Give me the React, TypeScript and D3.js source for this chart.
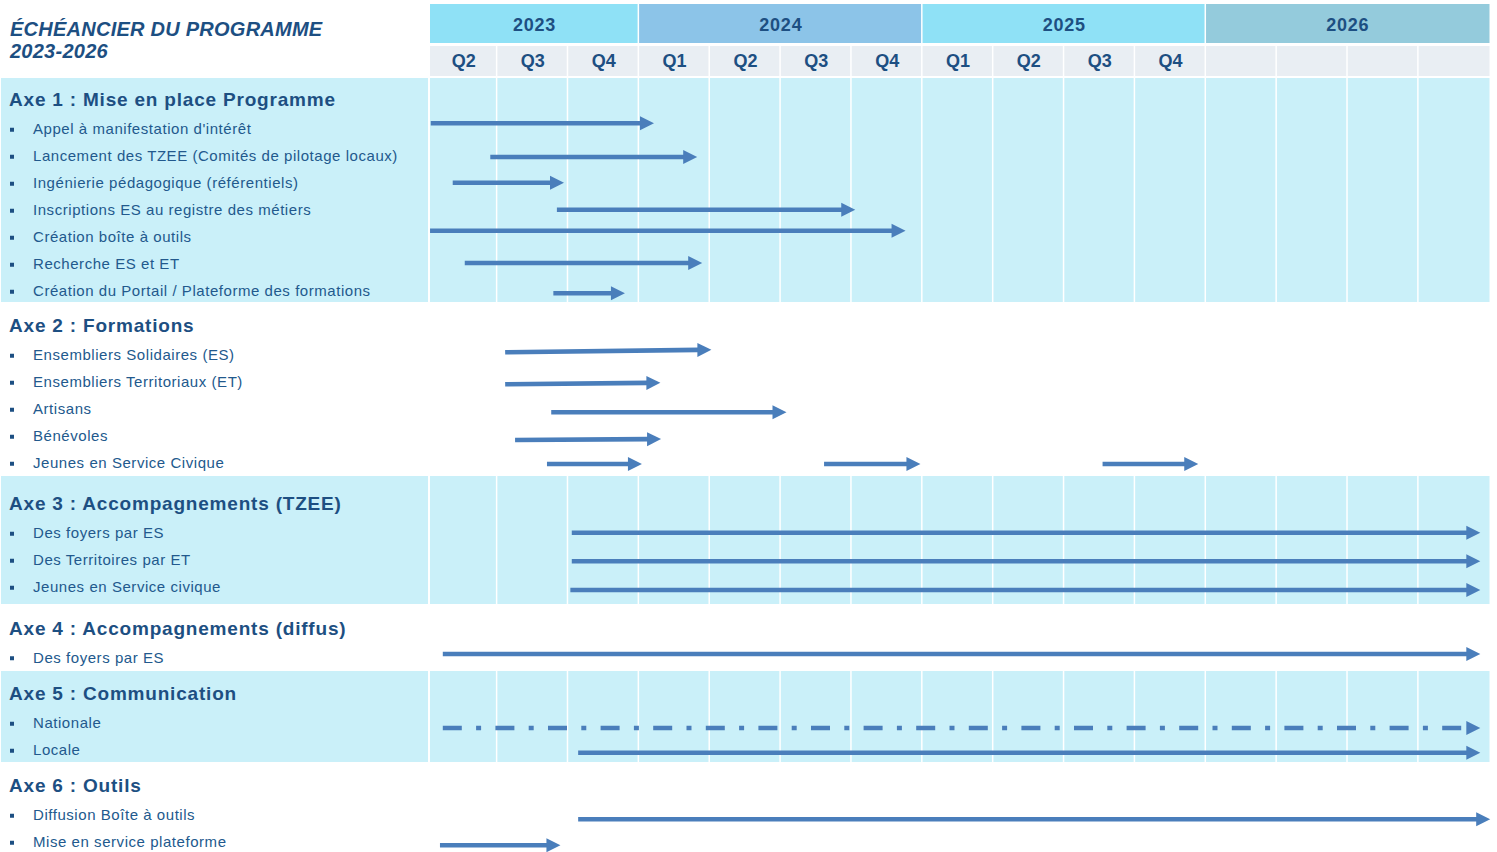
import React from "react";
import * as d3 from "d3";

// ---- Timeline ----
const YEARS = ["2023", "2024", "2025", "2026"];
const YEAR_QUARTER_COUNT = [3, 4, 4, 4];
const QUARTER_LABELS = ["Q2", "Q3", "Q4", "Q1", "Q2", "Q3", "Q4", "Q1", "Q2", "Q3", "Q4", "", "", "", ""];

// ---- Programme axes and tasks (spans in quarters counted from the start of Q2 2023) ----
const AXIS_TITLES = [
  "Axe 1 : Mise en place Programme",
  "Axe 2 : Formations",
  "Axe 3 : Accompagnements (TZEE)",
  "Axe 4 : Accompagnements (diffus)",
  "Axe 5 : Communication",
  "Axe 6 : Outils",
];

const AXE1_TASKS = [
  "Appel à manifestation d'intérêt",
  "Lancement des TZEE (Comités de pilotage locaux)",
  "Ingénierie pédagogique (référentiels)",
  "Inscriptions ES au registre des métiers",
  "Création boîte à outils",
  "Recherche ES et ET",
  "Création du Portail / Plateforme des formations",
];
const AXE1_SPANS: [number, number][][] = [
  [[0.06, 3.21]],
  [[0.9, 3.82]],
  [[0.37, 1.94]],
  [[1.84, 6.05]],
  [[0.05, 6.76]],
  [[0.54, 3.89]],
  [[1.79, 2.8]],
];

const AXE2_TASKS = [
  "Ensembliers Solidaires (ES)",
  "Ensembliers Territoriaux (ET)",
  "Artisans",
  "Bénévoles",
  "Jeunes en Service Civique",
];
const AXE2_SPANS: [number, number][][] = [
  [[1.11, 4.02]],
  [[1.11, 3.3]],
  [[1.76, 5.08]],
  [[1.25, 3.31]],
  [[1.7, 3.04], [5.61, 6.97], [9.54, 10.89]],
];

const AXE3_TASKS = ["Des foyers par ES", "Des Territoires par ET", "Jeunes en Service civique"];
const AXE3_SPANS: [number, number][][] = [
  [[2.05, 14.87]],
  [[2.05, 14.87]],
  [[2.03, 14.87]],
];

const AXE4_TASKS = ["Des foyers par ES"];
const AXE4_SPANS: [number, number][][] = [[[0.23, 14.87]]];

const AXE5_TASKS = ["Nationale", "Locale"];
const AXE5_SPANS: [number, number][][] = [
  [[0.23, 14.87]],
  [[2.14, 14.87]],
];

const AXE6_TASKS = ["Diffusion Boîte à outils", "Mise en service plateforme"];
const AXE6_SPANS: [number, number][][] = [
  [[2.14, 15.01]],
  [[0.19, 1.89]],
];

const AXES = [
  { title: AXIS_TITLES[0], tasks: AXE1_TASKS, spans: AXE1_SPANS },
  { title: AXIS_TITLES[1], tasks: AXE2_TASKS, spans: AXE2_SPANS },
  { title: AXIS_TITLES[2], tasks: AXE3_TASKS, spans: AXE3_SPANS },
  { title: AXIS_TITLES[3], tasks: AXE4_TASKS, spans: AXE4_SPANS },
  { title: AXIS_TITLES[4], tasks: AXE5_TASKS, spans: AXE5_SPANS },
  { title: AXIS_TITLES[5], tasks: AXE6_TASKS, spans: AXE6_SPANS },
];

// ---- Layout ----
const W = 1497;
const H = 852;
const GRID_LEFT = 430;
const GRID_RIGHT = 1489.5;
const BAND_HEIGHTS = [224, 174, 128, 67, 91, 90];
const BAND_CONTENT_SHIFT = [0, 0, 0, 0, 0, 1.5];
const BODY_TOP = 78;
// small vertical offsets of each arrow relative to its row: [at tail, at tip]
const ARROW_NUDGE: [number, number][][] = [
  [[-5.5, -5.5], [1.3, 1.3], [0, 0], [0, 0], [-6, -6], [-0.7, -0.7], [2.5, 2.5]],
  [[-2.5, -5], [2.5, 1], [3.5, 3.5], [4.3, 3.3], [1.3, 1.3]],
  [[0, 0], [1.5, 1.5], [3.3, 3.3]],
  [[-3.3, -3.3]],
  [[5.3, 5.3], [3, 3]],
  [[4.5, 4.5], [3.5, 3.5]],
];
const DASHED = new Set(["Nationale"]);

const C_BAND = "#caf0f9";
const C_YEAR = ["#8fe1f6", "#8cc4e8", "#8fe1f6", "#94cbdc"];
const C_QUARTER = "#e9eef3";
const C_HEAD_TEXT = "#1d4f82";
const C_ITEM_TEXT = "#22598d";
const C_ARROW = "#4a7ebb";
const FONT = "'Liberation Sans', Arial, sans-serif";

export default function App() {
  const x = d3.scaleLinear().domain([0, 15]).range([426.5, GRID_RIGHT]);
  const quarterIdx = d3.range(15);

  // year cells
  const yearStarts = d3.cumsum([0, ...YEAR_QUARTER_COUNT]);

  // band positions
  const bandTops = Array.from(d3.cumsum([BODY_TOP, ...BAND_HEIGHTS]));

  const headLen = 14;
  const headHalf = 7;

  return (
    <svg width={W} height={H} style={{ position: "absolute", left: 0, top: 0, display: "block", background: "#fff" }} fontFamily={FONT}>
      {/* title */}
      <text x={10} y={36} fontSize={20} fontWeight="bold" fontStyle="italic" fill={C_HEAD_TEXT} letterSpacing={0.25}>
        ÉCHÉANCIER DU PROGRAMME
      </text>
      <text x={10} y={58} fontSize={20} fontWeight="bold" fontStyle="italic" fill={C_HEAD_TEXT} letterSpacing={0.25}>
        2023-2026
      </text>

      {/* year header */}
      {YEARS.map((yr, i) => {
        const x0 = Math.max(x(yearStarts[i]), GRID_LEFT);
        const x1 = x(yearStarts[i + 1]);
        return (
          <g key={yr}>
            <rect x={x0} y={4} width={x1 - x0 - (i < YEARS.length - 1 ? 1.5 : 0)} height={39} fill={C_YEAR[i]} />
            <text x={(x0 + x1) / 2} y={25} dy="0.35em" textAnchor="middle" fontSize={18} fontWeight="bold" fill={C_HEAD_TEXT} letterSpacing={0.8}>
              {yr}
            </text>
          </g>
        );
      })}

      {/* quarter header */}
      {quarterIdx.map((q) => {
        const x0 = Math.max(x(q), GRID_LEFT);
        const x1 = x(q + 1);
        return (
          <g key={"q" + q}>
            <rect x={x0} y={46} width={x1 - x0 - (q < 14 ? 1.5 : 0)} height={30} fill={C_QUARTER} />
            <text x={(x0 + x1) / 2} y={61} dy="0.35em" textAnchor="middle" fontSize={18} fontWeight="bold" fill={C_HEAD_TEXT}>
              {QUARTER_LABELS[q]}
            </text>
          </g>
        );
      })}

      {/* bands */}
      {AXES.map((axis, a) => {
        const top = bandTops[a];
        const h = BAND_HEIGHTS[a];
        const shaded = a % 2 === 0;
        const n = axis.tasks.length;
        const center = top + h / 2 + 5 + BAND_CONTENT_SHIFT[a];
        const headY = center - (29.5 + 27 * (n - 1)) / 2;
        const rowY = (i: number) => headY + 29.5 + 27 * i;
        return (
          <g key={axis.title}>
            {shaded && (
              <g>
                <rect x={1} y={top} width={427} height={h} fill={C_BAND} />
                {quarterIdx.map((q) => {
                  const x0 = Math.max(x(q), GRID_LEFT);
                  const x1 = x(q + 1);
                  return <rect key={q} x={x0} y={top} width={x1 - x0 - (q < 14 ? 1.5 : 0)} height={h} fill={C_BAND} />;
                })}
              </g>
            )}
            <text x={9} y={headY} dy="0.36em" fontSize={19} fontWeight="bold" fill={C_HEAD_TEXT} letterSpacing={0.8}>
              {axis.title}
            </text>
            {axis.tasks.map((t, i) => (
              <g key={t + i}>
                <rect x={10} y={rowY(i) - 1} width={4} height={4} fill={C_HEAD_TEXT} />
                <text x={33} y={rowY(i)} dy="0.35em" fontSize={15} fill={C_ITEM_TEXT} letterSpacing={0.55}>
                  {t}
                </text>
              </g>
            ))}
            {axis.spans.map((segs, i) =>
              segs.map(([s, e], k) => {
                const [n0, n1] = ARROW_NUDGE[a][i];
                const y0 = rowY(i) + n0;
                const y1 = rowY(i) + n1;
                const xs = x(s);
                const xe = x(e);
                const xb = xe - headLen;
                const yb = y0 + ((y1 - y0) * (xb - xs)) / (xe - xs);
                return (
                  <g key={`${i}-${k}`}>
                    <line
                      x1={xs}
                      y1={y0}
                      x2={xb + 1}
                      y2={yb}
                      stroke={C_ARROW}
                      strokeWidth={4.6}
                      strokeDasharray={DASHED.has(axis.tasks[i]) ? "19 14.3 5 14.3" : undefined}
                    />
                    <path d={`M${xb},${yb - headHalf}L${xe},${y1}L${xb},${yb + headHalf}Z`} fill={C_ARROW} />
                  </g>
                );
              })
            )}
          </g>
        );
      })}
    </svg>
  );
}
